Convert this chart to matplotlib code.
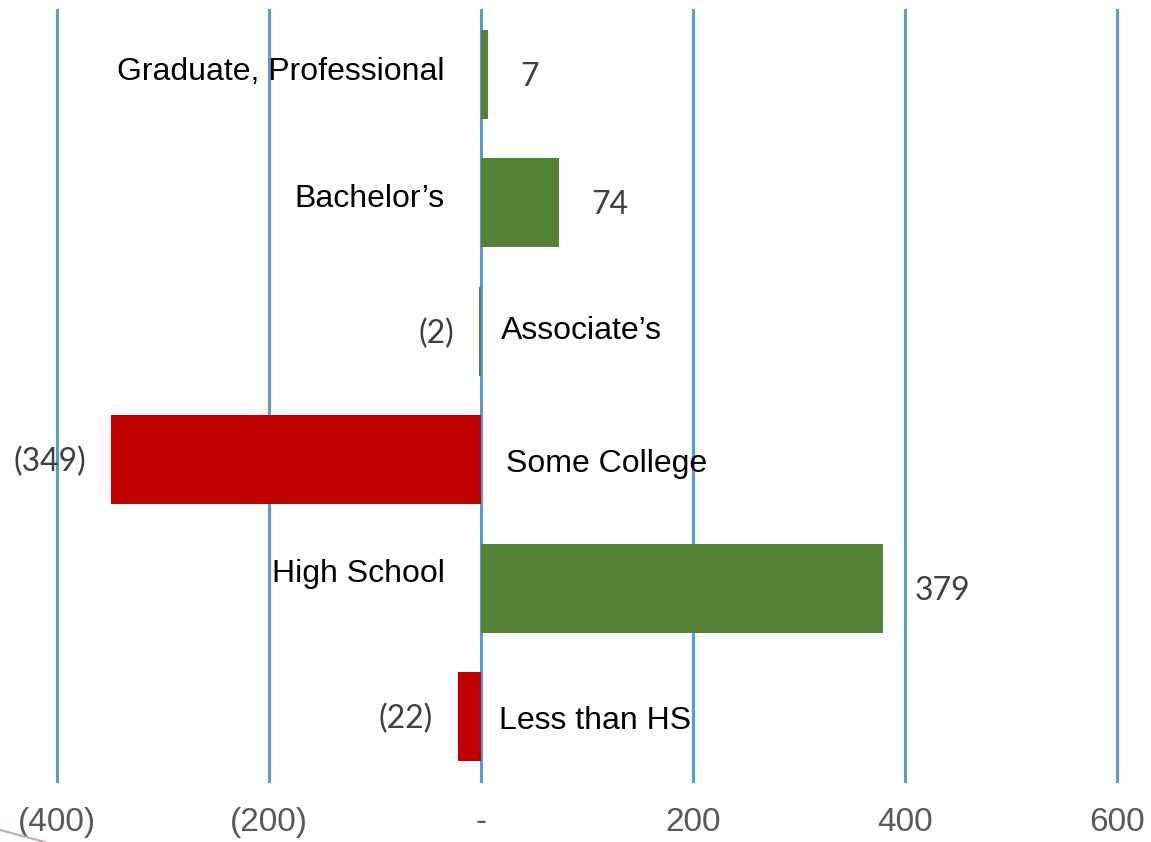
import matplotlib
matplotlib.use("Agg")
import matplotlib.pyplot as plt
from matplotlib.lines import Line2D

categories = ["Graduate, Professional", "Bachelor\u2019s", "Associate\u2019s",
              "Some College", "High School", "Less than HS"]
values = [7, 74, -2, -349, 379, -22]
value_labels = ["7", "74", "(2)", "(349)", "379", "(22)"]
xticks = [-400, -200, 0, 200, 400, 600]
xtick_labels = ["(400)", "(200)", "-", "200", "400", "600"]

GREEN = "#538135"
RED = "#C00000"
GRID = "#5B9BD5"
bar_colors = [GREEN, GREEN, GREEN, RED, GREEN, RED]

# layout for category labels: x position in data units, y offset
cat_label_x = [-34, -34, 19, 24, -34, 17]
cat_label_dy = [-0.02, -0.03, 0.0, 0.03, -0.11, 0.03]

fig = plt.figure(figsize=(11.51, 8.42), dpi=100)
ax = fig.add_axes([57/1151, (842-781)/842, 1060/1151, (781-10)/842])

ypos = list(range(len(categories)))

for x in xticks:
    ax.axvline(x, color=GRID, lw=2.2, zorder=1, clip_on=False)

ax.barh(ypos, values, height=0.69, color=bar_colors, zorder=2)

ax.set_xlim(-400, 600)
ax.set_ylim(5.5, -0.5)

for i, (v, lab) in enumerate(zip(values, value_labels)):
    if v >= 0:
        ax.annotate(lab, (v, i + 0.02), xytext=(23, 0), textcoords="offset points",
                    ha="left", va="center", fontsize=23, color="#404040",
                    family="Lato", zorder=3)
    else:
        ax.annotate(lab, (v, i + 0.02), xytext=(-18, 0), textcoords="offset points",
                    ha="right", va="center", fontsize=23, color="#404040",
                    family="Lato", zorder=3)

for i, (c, x, dy) in enumerate(zip(categories, cat_label_x, cat_label_dy)):
    ha = "right" if x < 0 else "left"
    ax.text(x, i + dy, c, ha=ha, va="center", fontsize=23, color="black",
            family="Liberation Sans", zorder=3)

ax.set_xticks(xticks)
ax.set_xticklabels(xtick_labels, fontsize=24, color="#595959",
                   family="Liberation Sans")
ax.tick_params(axis="x", length=0, pad=19)
ax.set_yticks([])
for s in ax.spines.values():
    s.set_visible(False)

fig.add_artist(Line2D([0, 45/1151], [(842-830)/842, 0], transform=fig.transFigure,
                      color="#C8A8B0", lw=1.5))

fig.savefig("out.png", dpi=100)
